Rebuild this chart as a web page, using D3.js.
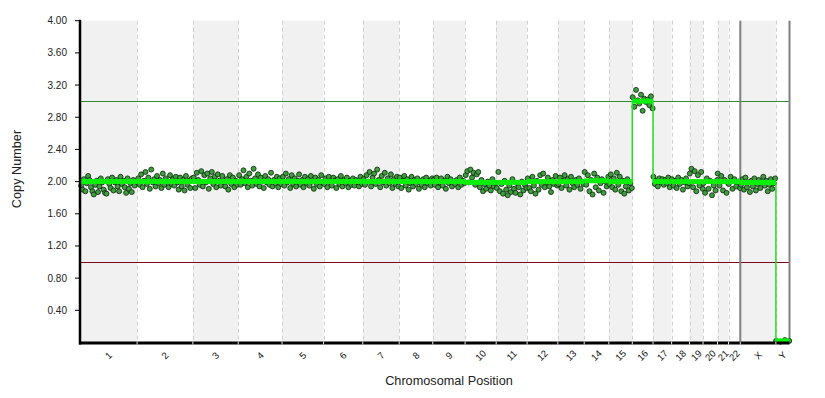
<!DOCTYPE html>
<html>
<head>
<meta charset="utf-8">
<script src="https://cdn.jsdelivr.net/npm/d3@7"></script>
<style>
  body { margin: 0; background: #fff; }
  text { font-family: "Liberation Sans", Arial, sans-serif; fill: #222; }
</style>
</head>
<body>
<div id="chart"></div>
<script>
// chromosomes and their lengths (Mb, hg19)
const chromosomes = ["1","2","3","4","5","6","7","8","9","10","11","12","13","14","15","16","17","18","19","20","21","22","X","Y"];
const chromLengths = [249.25,243.2,198.0,191.15,180.9,171.1,159.1,146.4,141.2,135.5,135.0,133.9,115.2,107.3,102.5,90.4,81.2,78.1,59.1,63.0,48.1,51.3,155.3,59.4];

// segment copy number per chromosome
const segmentValues = [2.00,2.00,2.00,2.00,2.00,2.00,2.00,2.00,2.00,1.99,1.99,2.00,2.00,2.01,2.00,3.00,2.00,2.00,2.00,2.00,2.00,2.00,1.99,0.02];

// probe copy numbers, one list per chromosome
const probeValues = [
  [1.95,1.90,2.03,1.88,1.98,2.07,2.02,1.93,1.88,1.84,1.96,2.01,1.87,1.94,2.04,1.99,1.90,1.86,1.85,2.03,1.97,1.92,2.05,1.89,1.99,2.02,1.94,1.88,2.06,1.97,2.01,1.93,1.86,2.04,1.91,1.98,1.87,2.02,1.95,2.00],
  [2.04,1.96,2.09,1.93,2.01,2.12,1.97,2.05,1.91,2.15,1.99,2.03,1.94,2.07,1.98,2.02,1.92,2.10,1.96,2.04,2.00,1.93,2.08,1.97,2.03,1.95,2.06,1.99,1.90,2.05,1.94,2.02,1.89,2.07,1.96,2.01,1.92,2.04],
  [2.05,1.92,2.11,2.02,1.96,2.13,1.94,2.08,1.99,2.10,1.91,2.04,2.12,1.97,2.06,1.93,2.09,2.01,1.95,2.07,2.00,1.94,2.03,1.90,2.08,1.97,2.05,1.93,2.01,1.96],
  [2.08,1.96,2.03,2.14,1.98,2.06,1.93,2.10,2.01,1.95,2.16,2.04,1.97,2.09,1.94,2.05,2.00,1.92,2.07,1.99,2.03,1.96,2.11,1.94,2.02,1.98,2.06,1.93,2.04,1.97],
  [2.06,1.95,2.10,1.99,2.03,1.92,2.08,1.97,2.04,1.94,2.01,2.09,1.96,2.02,1.93,2.06,1.98,2.03,1.95,2.07,2.00,1.91,2.05,1.97,2.02,1.94,2.08,1.99],
  [1.97,2.04,1.93,2.06,1.99,1.95,2.05,2.01,1.92,2.03,1.97,2.07,1.94,2.02,1.98,2.05,1.93,2.01,1.96,2.04,1.95,2.02,1.99,1.94,2.06,1.97],
  [2.03,1.96,2.08,2.00,2.12,1.94,2.05,2.10,1.97,2.15,2.02,1.93,2.07,1.99,2.11,1.95,2.04,1.98,2.09,1.92,2.03,1.97,2.06,1.94],
  [2.05,1.92,2.01,2.07,1.95,2.03,1.90,1.98,2.06,1.94,2.02,1.97,2.04,1.91,2.00,1.96,2.03,1.93,2.05,1.98,2.01,1.95,2.04],
  [2.02,1.96,2.05,1.93,1.99,2.04,1.95,2.01,1.91,2.06,1.98,2.03,1.94,2.00,1.97,2.02,1.93,2.05,1.96,2.01,1.98],
  [2.08,2.13,1.99,2.15,2.05,2.11,1.96,2.09,2.12,1.93,2.02,1.88,1.97,1.91,2.00,1.95,1.89,2.03,1.94,1.98],
  [1.92,2.12,1.88,1.97,1.85,2.01,1.90,1.83,1.95,1.87,2.03,1.91,1.86,1.98,1.93,1.84,2.00,1.89,1.96,1.92],
  [2.04,1.92,1.88,2.06,1.95,1.85,2.01,1.90,2.08,1.96,2.10,1.93,1.99,2.05,1.94,1.87,2.02,1.97,2.07,1.95],
  [1.97,2.05,1.92,2.01,2.08,1.95,2.03,1.90,2.06,1.98,1.93,2.02,1.96,2.04,1.91,2.00,1.97],
  [2.12,1.96,2.08,1.88,2.02,1.84,2.10,1.93,2.05,1.89,1.98,2.03,1.86,2.00,1.94,2.06],
  [1.97,2.09,1.93,2.04,1.90,2.11,1.96,2.06,1.88,2.01,1.85,1.94,2.03,1.89,1.98,1.92],
  [3.05,2.93,3.14,3.01,2.97,3.08,2.88,3.03,2.99,3.02,2.95,3.06,2.91],
  [2.06,1.97,2.01,1.94,2.04,1.99,2.03,1.96,2.02,1.98,2.05,1.93,2.00],
  [2.03,1.95,2.01,1.92,2.05,1.97,2.02,1.90,1.99,2.04,1.94,1.98],
  [2.10,2.16,1.93,2.13,1.88,2.08,1.95,2.12,1.91],
  [1.98,1.86,2.04,1.91,2.01,1.83,1.95,1.89,2.02],
  [2.10,1.95,2.07,1.89,2.02,1.86,1.98],
  [1.97,2.06,1.91,2.03,1.94,2.00,1.92],
  [1.96,2.03,1.90,2.05,1.93,1.99,1.87,2.01,1.94,2.04,1.89,1.97,2.02,1.92,1.99,2.06,1.95,2.01,1.88,1.96,2.03,1.91,1.98,2.04],
  [0.02,0.01,0.03,0.02]
];

const yTicks = [0.4,0.8,1.2,1.6,2.0,2.4,2.8,3.2,3.6,4.0];
const gainLine = 3.0;
const lossLine = 1.0;

const width = 825, height = 398;
const plot = { left: 80, right: 789.5, top: 20.7, bottom: 342.5 };

// cumulative starts
const starts = [];
let acc = 0;
chromLengths.forEach(l => { starts.push(acc); acc += l; });
const genome = acc;

const x = d3.scaleLinear().domain([0, genome]).range([plot.left, plot.right]);
const y = d3.scaleLinear().domain([0, 4]).range([plot.bottom, plot.top]);

const svg = d3.select("#chart").append("svg")
  .attr("width", width)
  .attr("height", height)
  .style("display", "block");

svg.append("rect").attr("width", width).attr("height", height).attr("fill", "#fff");

// alternating chromosome bands
svg.append("g").selectAll("rect")
  .data(chromosomes)
  .enter()
  .filter((d, i) => i % 2 === 0)
  .append("rect")
  .attr("x", d => x(starts[chromosomes.indexOf(d)]))
  .attr("y", plot.top)
  .attr("width", d => { const i = chromosomes.indexOf(d); return x(starts[i] + chromLengths[i]) - x(starts[i]); })
  .attr("height", plot.bottom - plot.top)
  .attr("fill", "#f1f1f1");

// dashed chromosome boundaries
svg.append("g").selectAll("line")
  .data(starts.slice(1))
  .enter()
  .append("line")
  .attr("x1", d => Math.round(x(d)) + 0.5).attr("x2", d => Math.round(x(d)) + 0.5)
  .attr("y1", plot.top).attr("y2", plot.bottom)
  .attr("stroke", "#d0d0d0")
  .attr("stroke-width", 1)
  .attr("stroke-dasharray", "4,3");

// threshold lines
svg.append("line")
  .attr("x1", plot.left).attr("x2", plot.right)
  .attr("y1", Math.round(y(gainLine)) + 0.5).attr("y2", Math.round(y(gainLine)) + 0.5)
  .attr("stroke", "#2e8b2e").attr("stroke-width", 1);
svg.append("line")
  .attr("x1", plot.left).attr("x2", plot.right)
  .attr("y1", Math.round(y(lossLine)) + 0.5).attr("y2", Math.round(y(lossLine)) + 0.5)
  .attr("stroke", "#7a0a1a").attr("stroke-width", 1);

// probes
const probes = [];
probeValues.forEach((vals, ci) => {
  const pos = d3.scaleLinear().domain([0, vals.length - 1])
    .range([starts[ci] + chromLengths[ci] * 0.02, starts[ci] + chromLengths[ci] * 0.98]);
  vals.forEach((v, j) => probes.push({ p: pos(j), v: v }));
});

// grey separators at X and genome end
[starts[22], genome].forEach(p => {
  svg.append("line")
    .attr("x1", x(p)).attr("x2", x(p))
    .attr("y1", plot.top).attr("y2", plot.bottom)
    .attr("stroke", "#808080").attr("stroke-width", 2);
});

svg.append("g").selectAll("circle")
  .data(probes)
  .enter()
  .append("circle")
  .attr("cx", d => x(d.p))
  .attr("cy", d => y(d.v))
  .attr("r", 2.5)
  .attr("fill", "#3f9f3f")
  .attr("stroke", "#0c240c")
  .attr("stroke-width", 0.8);

// segment connectors
const stepPts = [];
segmentValues.forEach((v, i) => {
  stepPts.push([starts[i], v]);
  stepPts.push([starts[i] + chromLengths[i], v]);
});
svg.append("path")
  .datum(stepPts)
  .attr("fill", "none")
  .attr("stroke", "#22e022")
  .attr("stroke-width", 1.5)
  .attr("d", d3.line().x(d => x(d[0])).y(d => y(d[1])));

// thick segments
svg.append("g").selectAll("line")
  .data(segmentValues)
  .enter()
  .append("line")
  .attr("x1", (d, i) => x(starts[i]))
  .attr("x2", (d, i) => x(starts[i] + chromLengths[i]))
  .attr("y1", d => y(d)).attr("y2", d => y(d))
  .attr("stroke", "#0af00a")
  .attr("stroke-width", 5);

// axes
svg.append("line")
  .attr("x1", plot.left).attr("x2", plot.left)
  .attr("y1", plot.top - 1).attr("y2", plot.bottom + 2)
  .attr("stroke", "#000").attr("stroke-width", 2.5);
svg.append("line")
  .attr("x1", plot.left - 1).attr("x2", plot.right)
  .attr("y1", plot.bottom + 0.5).attr("y2", plot.bottom + 0.5)
  .attr("stroke", "#000").attr("stroke-width", 3);

// boundary notches through the x axis
svg.append("g").selectAll("line")
  .data(starts.slice(1))
  .enter()
  .append("line")
  .attr("x1", d => x(d)).attr("x2", d => x(d))
  .attr("y1", plot.bottom - 1).attr("y2", plot.bottom + 2)
  .attr("stroke", "#e8e8e8").attr("stroke-width", 1);

// y ticks
const yt = svg.append("g");
yt.selectAll("line")
  .data(yTicks)
  .enter()
  .append("line")
  .attr("x1", plot.left - 5).attr("x2", plot.left)
  .attr("y1", d => y(d)).attr("y2", d => y(d))
  .attr("stroke", "#000").attr("stroke-width", 1);
yt.selectAll("text")
  .data(yTicks)
  .enter()
  .append("text")
  .attr("x", plot.left - 13)
  .attr("y", d => y(d))
  .attr("dy", "0.35em")
  .attr("text-anchor", "end")
  .style("font-size", "10px")
  .text(d => d.toFixed(2));

// x tick labels, rotated
svg.append("g").selectAll("text")
  .data(chromosomes)
  .enter()
  .append("text")
  .attr("transform", (d, i) => `translate(${x(starts[i] + chromLengths[i] / 2)},${plot.bottom + 13}) rotate(-45)`)
  .attr("text-anchor", "middle")
  .attr("dy", "0.35em")
  .style("font-size", "9.5px")
  .style("fill", "#111")
  .text(d => d);

// titles
svg.append("text")
  .attr("transform", "translate(21,169) rotate(-90)")
  .attr("text-anchor", "middle")
  .style("font-size", "12.7px")
  .text("Copy Number");
svg.append("text")
  .attr("x", 449).attr("y", 385)
  .attr("text-anchor", "middle")
  .style("font-size", "12.7px")
  .text("Chromosomal Position");
</script>
</body>
</html>
